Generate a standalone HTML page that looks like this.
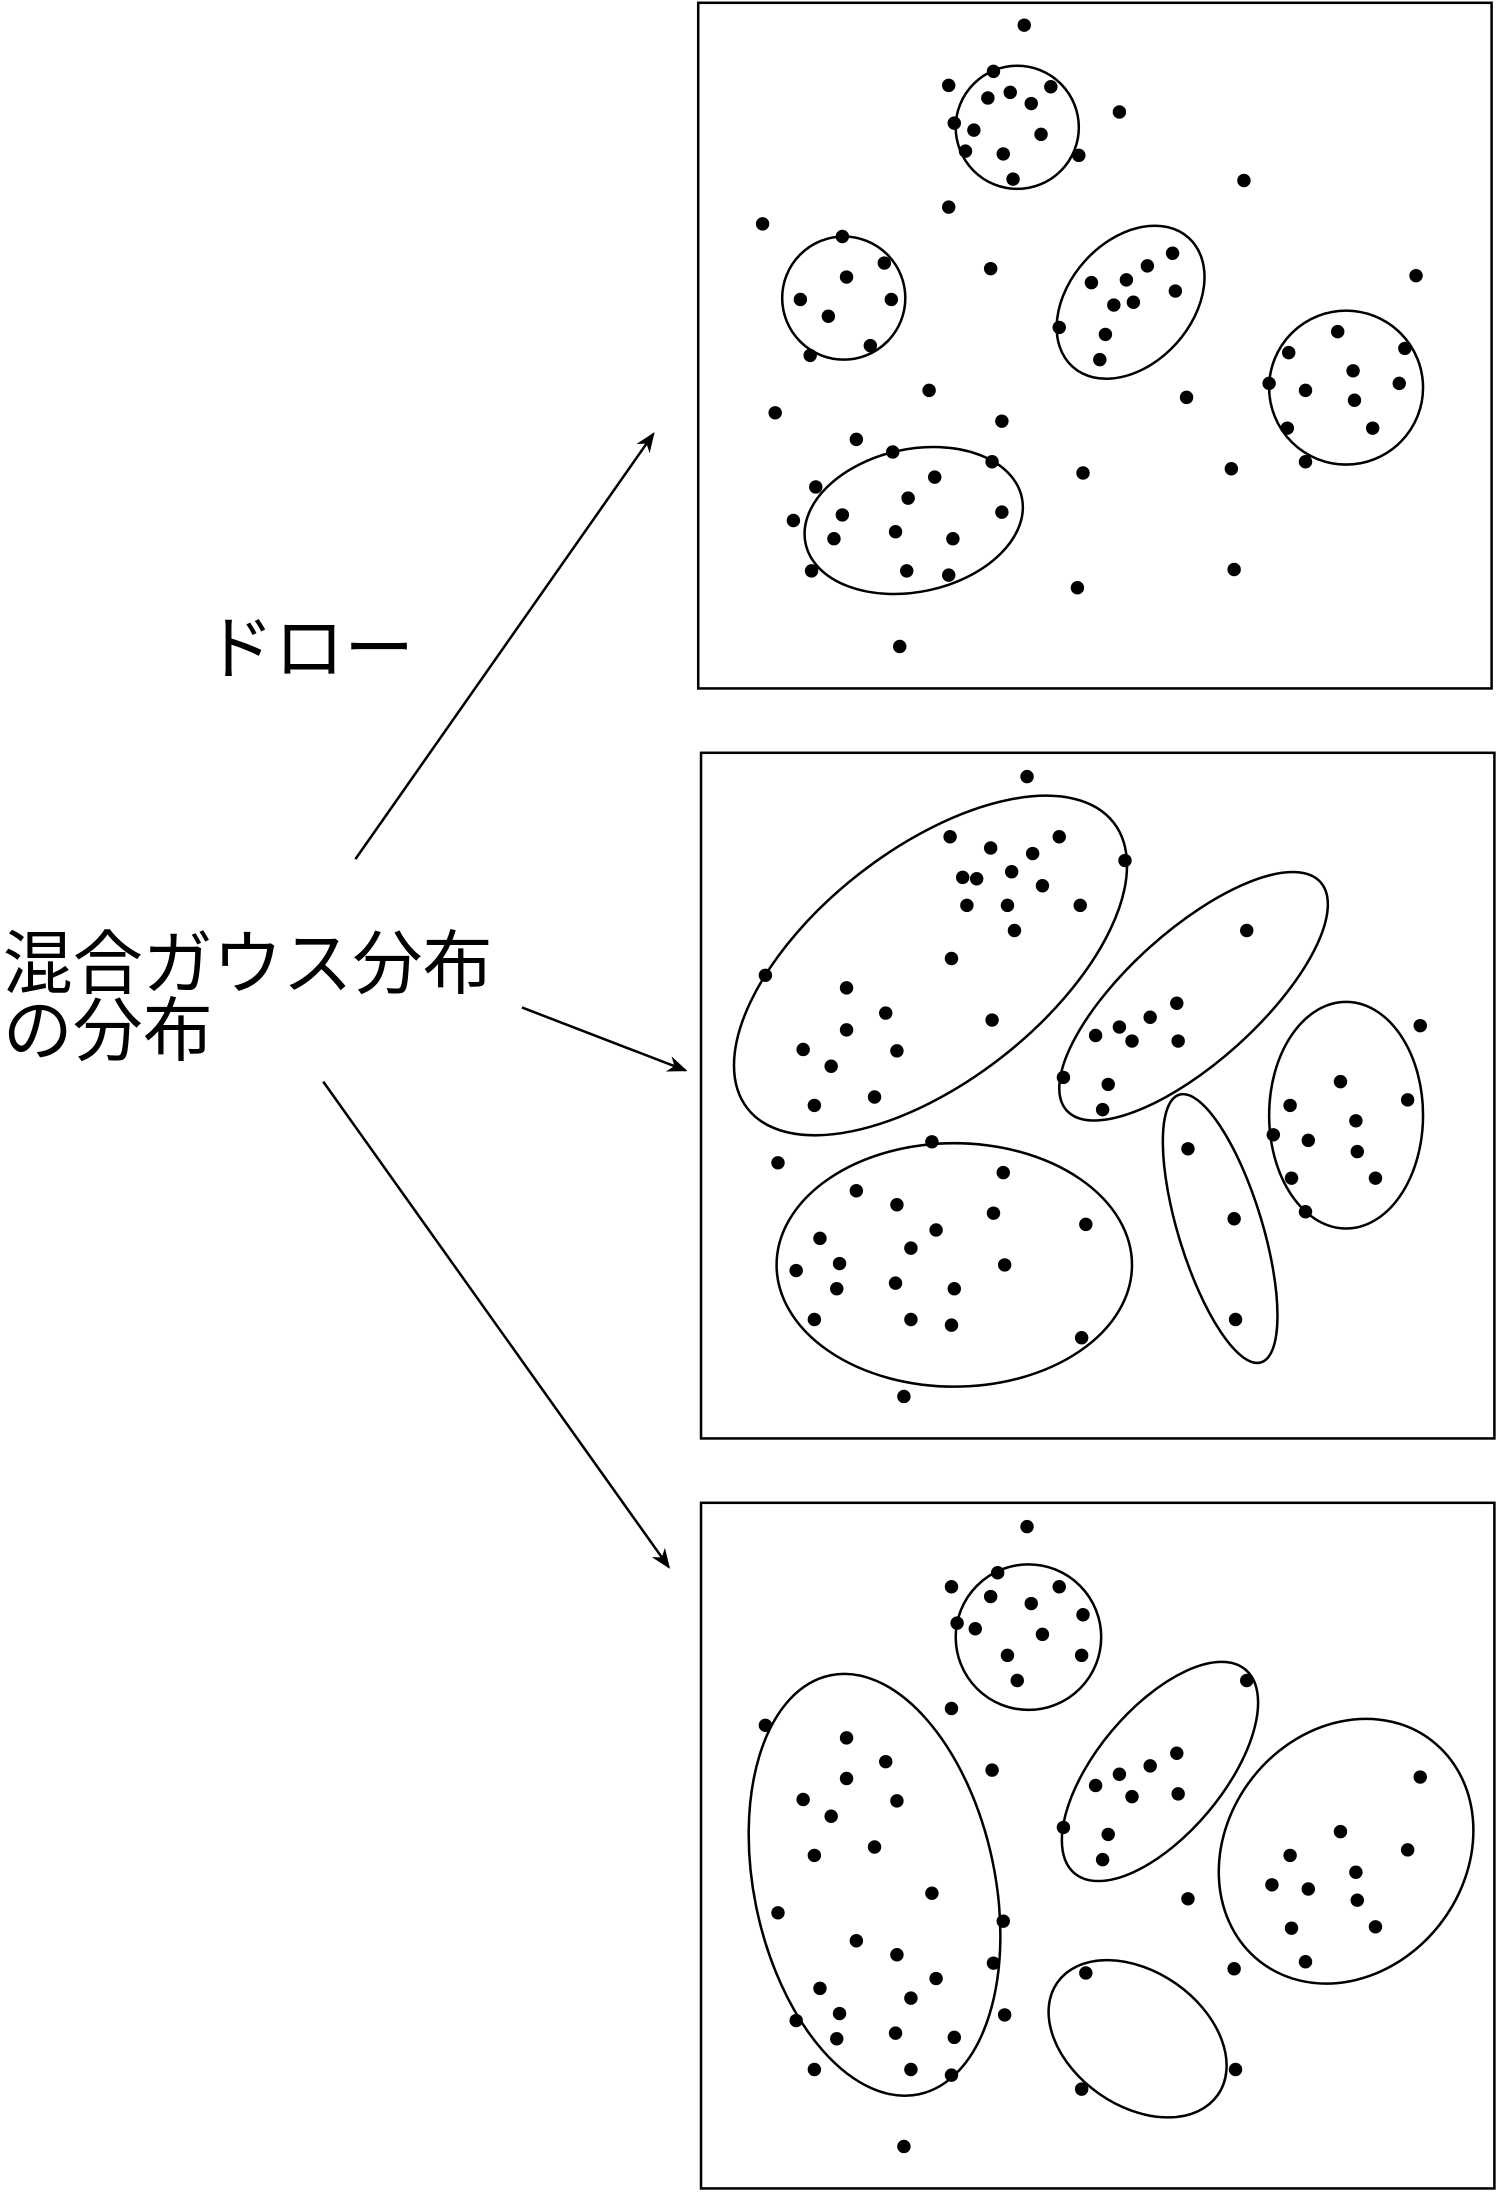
<!DOCTYPE html>
<html><head><meta charset="utf-8"><style>html,body{margin:0;padding:0;background:#fff}svg{display:block}</style></head>
<body>
<svg width="1500" height="2196" viewBox="0 0 1072 1569.4" preserveAspectRatio="none" xmlns="http://www.w3.org/2000/svg">
<defs><marker id="ah" viewBox="0 0 10 10" refX="9" refY="5" markerWidth="8" markerHeight="8" orient="auto"><path d="M0,1 L10,5 L0,9 L3,5 z" fill="#000"/></marker></defs>
<g font-family="'Liberation Sans','Noto Sans CJK JP',sans-serif" font-size="50" fill="#000">
<text x="146" y="481">ドロー</text>
<text x="2" y="706">混合ガウス分布</text>
<text x="2" y="754">の分布</text>
</g>
<g stroke="#000" stroke-width="1.8" marker-end="url(#ah)">
<line x1="254" y1="614" x2="467" y2="310"/>
<line x1="373" y1="720" x2="490" y2="765"/>
<line x1="231" y1="773" x2="478" y2="1120"/>
</g>
<g id="panels" fill="none" stroke="#000" stroke-width="1.8"></g>
</svg>
<script>
const panelRects=[[499,2,567,490],[501,538,567,490],[501,1074,567,490]];
const ellipses1=[[727,91,44,44,0],[603,213,44,44,0],[808,216,62,44,-48],[962,277,55,55,0],[653,372,79,51,-12]];
const ellipses2=[[665,690,166,83,-38],[853,712,122,47,-42],[962,797,55,81,0],[682,904,127,87,0],[872,878,30,100,-17]];
const ellipses3=[[735,1170,52,52,0],[625,1347,86,153,-12],[829,1266,95,45,-50],[962,1323,85,100,38],[813,1457,70,48,35]];
const points1=[[732,18],[710,51],[678,61],[706,70],[722,66],[737,74],[751,62],[800,80],[682,88],[696,93],[744,96],[690,108],[717,110],[771,111],[724,128],[889,129],[678,148],[545,160],[602,169],[632,188],[605,198],[838,181],[820,190],[805,200],[780,202],[1012,197],[708,192],[572,214],[592,226],[637,214],[810,216],[840,208],[796,218],[757,234],[790,239],[956,237],[622,247],[786,257],[579,254],[1004,249],[921,252],[967,265],[907,274],[933,279],[1000,274],[968,286],[664,279],[848,284],[554,295],[920,306],[981,306],[716,301],[612,314],[638,323],[709,330],[933,330],[774,338],[880,335],[668,341],[583,348],[649,356],[716,366],[567,372],[602,368],[640,380],[681,385],[596,385],[580,408],[648,408],[678,411],[882,407],[770,420],[643,462]];
const points2=[[734,555],[679,598],[708,606],[757,598],[804,615],[688,627],[698,628],[738,610],[723,623],[745,633],[691,647],[720,647],[772,647],[725,665],[891,665],[547,697],[680,685],[605,706],[633,724],[709,729],[841,717],[822,727],[809,744],[783,740],[800,734],[842,744],[574,750],[605,736],[641,751],[594,762],[760,770],[1015,733],[792,775],[958,773],[625,784],[582,790],[788,793],[1006,786],[922,790],[910,811],[969,801],[935,815],[556,831],[666,816],[849,821],[970,823],[717,838],[923,842],[983,842],[612,851],[641,861],[710,867],[933,866],[669,879],[776,875],[882,871],[586,885],[651,892],[600,903],[569,908],[718,904],[640,917],[682,921],[598,921],[582,943],[651,943],[680,947],[883,943],[773,956],[646,998]];
const points3=[[734,1091],[713,1124],[680,1134],[708,1141],[737,1146],[757,1134],[697,1164],[774,1154],[684,1160],[720,1183],[745,1168],[773,1183],[727,1201],[891,1201],[680,1221],[547,1233],[605,1242],[633,1259],[709,1265],[841,1253],[822,1262],[809,1284],[783,1276],[800,1268],[842,1282],[574,1286],[605,1271],[641,1287],[594,1298],[760,1306],[1015,1270],[792,1311],[958,1309],[625,1320],[582,1326],[788,1329],[1006,1322],[922,1326],[909,1347],[969,1338],[935,1350],[556,1367],[666,1353],[849,1357],[970,1358],[717,1373],[923,1378],[983,1377],[612,1387],[641,1397],[710,1403],[933,1402],[669,1414],[776,1410],[882,1407],[586,1421],[651,1428],[600,1439],[569,1444],[718,1440],[640,1453],[682,1456],[598,1457],[582,1479],[651,1479],[680,1483],[883,1479],[773,1493],[646,1534]];
const NS='http://www.w3.org/2000/svg';
const g=document.getElementById('panels');
const allE=[ellipses1,ellipses2,ellipses3],allP=[points1,points2,points3];
panelRects.forEach((r,i)=>{
  const rect=document.createElementNS(NS,'rect');
  rect.setAttribute('x',r[0]);rect.setAttribute('y',r[1]);rect.setAttribute('width',r[2]);rect.setAttribute('height',r[3]);
  
  
  g.appendChild(rect);
  allE[i].forEach(e=>{
    const el=document.createElementNS(NS,'ellipse');
    el.setAttribute('cx',e[0]);el.setAttribute('cy',e[1]);el.setAttribute('rx',e[2]);el.setAttribute('ry',e[3]);
    el.setAttribute('transform','rotate('+e[4]+' '+e[0]+' '+e[1]+')');
    
    
    g.appendChild(el);
  });
  allP[i].forEach(p=>{
    const c=document.createElementNS(NS,'circle');
    c.setAttribute('cx',p[0]);c.setAttribute('cy',p[1]);c.setAttribute('r',4.8);
    c.setAttribute('fill','#000');c.setAttribute('stroke','none');
    
    
    g.appendChild(c);
  });
});
</script>
</body></html>
